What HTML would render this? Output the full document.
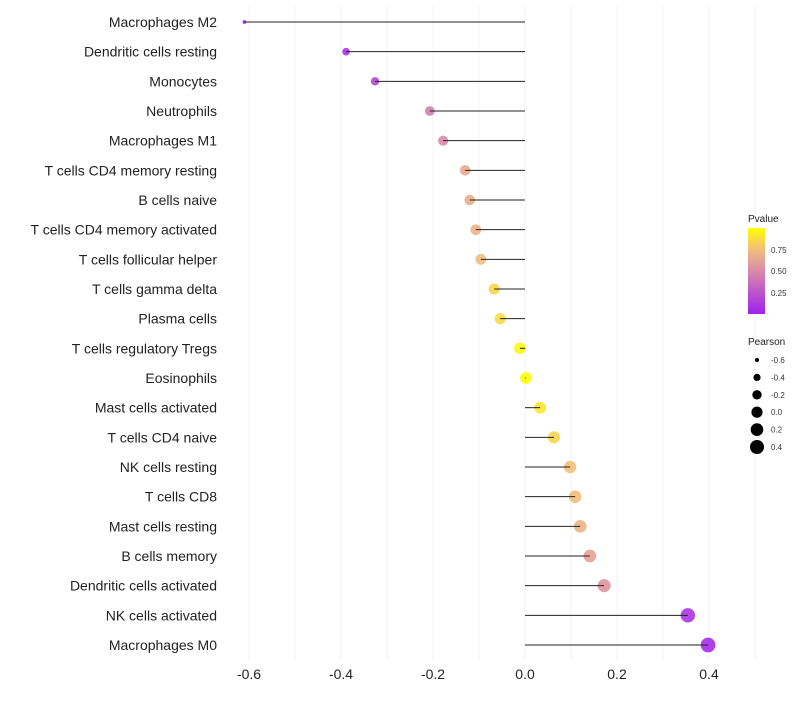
<!DOCTYPE html>
<html><head><meta charset="utf-8"><style>
body{margin:0;background:#fff;font-family:"Liberation Sans",sans-serif;}
</style></head><body>
<svg id="chart" width="800" height="700" xmlns="http://www.w3.org/2000/svg">
<defs><linearGradient id="pg" x1="0" y1="1" x2="0" y2="0">
<stop offset="0" stop-color="#a020f0"/><stop offset="0.5" stop-color="#d98aa8"/><stop offset="0.75" stop-color="#f2bd7c"/><stop offset="1" stop-color="#ffff00"/></linearGradient></defs>
<g id="grid"></g>
<g id="marks"></g>
<g id="ylab"></g>
<g id="xlab"></g>
<g>
<text x="748" y="222" font-size="10" fill="#222">Pvalue</text>
<rect x="748" y="228" width="17" height="86" fill="url(#pg)"/>
<text x="771" y="253" font-size="8" fill="#333">0.75</text>
<text x="771" y="274" font-size="8" fill="#333">0.50</text>
<text x="771" y="296" font-size="8" fill="#333">0.25</text>
</g>
<g id="sizeleg">
<text x="748" y="345" font-size="10" fill="#222">Pearson</text>
</g>
</svg>
<script>
const categories=["Macrophages M2","Dendritic cells resting","Monocytes","Neutrophils","Macrophages M1","T cells CD4 memory resting","B cells naive","T cells CD4 memory activated","T cells follicular helper","T cells gamma delta","Plasma cells","T cells regulatory  Tregs ","Eosinophils","Mast cells activated","T cells CD4 naive","NK cells resting","T cells CD8","Mast cells resting","B cells memory","Dendritic cells activated","NK cells activated","Macrophages M0"];
const pearson=[-0.61,-0.389,-0.326,-0.207,-0.178,-0.13,-0.12,-0.107,-0.096,-0.067,-0.054,-0.011,0.002,0.033,0.063,0.098,0.109,0.12,0.141,0.172,0.354,0.398];
const pvalues=[0.0,0.08,0.18,0.45,0.5,0.65,0.68,0.7,0.74,0.85,0.86,0.97,0.99,0.9,0.84,0.76,0.75,0.7,0.62,0.55,0.1,0.05];
const xTicks=[-0.6,-0.4,-0.2,0.0,0.2,0.4];
const xTickLabels=["-0.6","-0.4","-0.2","0.0","0.2","0.4"];
const legendVals=[-0.6,-0.4,-0.2,0.0,0.2,0.4];
const NS="http://www.w3.org/2000/svg";
const X=v=>525+v*460;
const Y=i=>22+i*(623/21);
const R=v=>Math.sqrt(Math.max(1,4+(v+0.6)*50));
const RL=v=>Math.sqrt(Math.max(1,4+(v+0.6)*45));
const stops=[[0,[160,32,240]],[0.5,[217,138,168]],[0.75,[242,189,124]],[1,[255,255,0]]];
function col(p){for(let k=1;k<stops.length;k++){if(p<=stops[k][0]){const a=stops[k-1],b=stops[k],t=(p-a[0])/(b[0]-a[0]);return "rgb("+a[1].map((c,j)=>Math.round(c+(b[1][j]-c)*t)).join(",")+")";}}return "rgb(255,255,0)";}
function mk(t,attrs,parent){const e=document.createElementNS(NS,t);for(const k in attrs)e.setAttribute(k,attrs[k]);parent.appendChild(e);return e;}
const grid=document.getElementById('grid');
for(let v=-0.6;v<=0.55;v+=0.1){const l=mk('line',{x1:X(v),x2:X(v),y1:5,y2:660,stroke:'#f0f0f0','stroke-width':0.8},grid);

}
const marks=document.getElementById('marks'),ylab=document.getElementById('ylab');
categories.forEach((c,i)=>{
const pt=mk('circle',{cx:X(pearson[i]),cy:Y(i),r:R(pearson[i]),fill:col(pvalues[i]),'fill-opacity':0.9},marks);


const ln=mk('line',{x1:X(pearson[i]),x2:X(0),y1:Y(i),y2:Y(i),stroke:'#222','stroke-width':1},marks);


const t=mk('text',{x:217,y:Y(i)+5,'text-anchor':'end','font-size':14,fill:'#222','xml:space':'preserve'},ylab);t.textContent=c;


});
const xlab=document.getElementById('xlab');
xTicks.forEach((v,i)=>{const t=mk('text',{x:X(v),y:679,'text-anchor':'middle','font-size':14,fill:'#222'},xlab);t.textContent=xTickLabels[i];

});
const sl=document.getElementById('sizeleg');
legendVals.forEach((v,i)=>{const y=360+i*17.4;
const c=mk('circle',{cx:757,cy:y,r:RL(v),fill:'#000'},sl);


const t=mk('text',{x:771,y:y+3,'font-size':8,fill:'#333'},sl);t.textContent=v.toFixed(1);

});
</script>
</body></html>
